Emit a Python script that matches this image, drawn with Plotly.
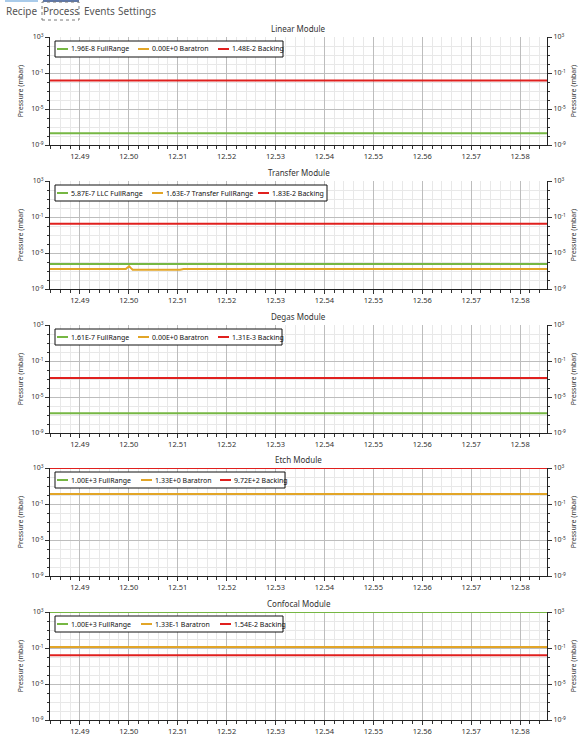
import plotly.graph_objects as go

W, H = 584, 738

# ---------------- data ----------------
modules = ["Linear Module", "Transfer Module", "Degas Module", "Etch Module", "Confocal Module"]

x_span = [12.4839, 12.5855]

linear_names = ["1.96E-8 FullRange", "0.00E+0 Baratron", "1.48E-2 Backing"]
linear_vals = [1.96e-8, 0.0, 1.48e-2]

transfer_names = ["5.87E-7 LLC FullRange", "1.63E-7 Transfer FullRange", "1.83E-2 Backing"]
transfer_vals = [5.87e-7, 1.63e-7, 1.83e-2]
transfer_orange_x = [12.4839, 12.4994, 12.4998, 12.5001, 12.5004, 12.5008, 12.5105, 12.5112, 12.5855]
transfer_orange_y = [1.63e-7, 1.63e-7, 2.6e-7, 3.3e-7, 2.2e-7, 1.35e-7, 1.35e-7, 1.63e-7, 1.63e-7]

degas_names = ["1.61E-7 FullRange", "0.00E+0 Baratron", "1.31E-3 Backing"]
degas_vals = [1.61e-7, 0.0, 1.31e-3]

etch_names = ["1.00E+3 FullRange", "1.33E+0 Baratron", "9.72E+2 Backing"]
etch_vals = [1.00e3, 1.33e0, 9.72e2]

confocal_names = ["1.00E+3 FullRange", "1.33E-1 Baratron", "1.54E-2 Backing"]
confocal_vals = [1.00e3, 1.33e-1, 1.54e-2]

y_major = [1e-9, 1e-5, 1e-1, 1e3]
y_major_text = ["10<sup>-9</sup>", "10<sup>-5</sup>", "10<sup>-1</sup>", "10<sup>3</sup>"]
y_minor = [1e-8, 1e-7, 1e-6, 1e-4, 1e-3, 1e-2, 1e0, 1e1, 1e2]

tabs = ["Recipe", "Process", "Events", "Settings"]

colors = ["#76b743", "#e2a527", "#e0201e"]

# ---------------- layout geometry (pixels) ----------------
FONT = "Noto Sans"
plot_left, plot_right = 50, 547
tops = [37, 181, 325, 468, 612]
ph = 108
# legend layout: (line starts for each entry, right edge of box)
legend_layout = [
    ([57, 138, 218], 283),
    ([57, 152, 258], 327),
    ([57, 138, 218], 282),
    ([57, 141, 220], 285),
    ([57, 141, 220], 283),
]


def px_x(p):
    return p / W


def px_y(p):
    return 1 - p / H


fig = go.Figure()

panels = [
    (linear_names, linear_vals, None),
    (transfer_names, transfer_vals, (transfer_orange_x, transfer_orange_y)),
    (degas_names, degas_vals, None),
    (etch_names, etch_vals, None),
    (confocal_names, confocal_vals, None),
]

layout = dict(
    width=W, height=H,
    margin=dict(l=0, r=0, t=0, b=0),
    paper_bgcolor="white", plot_bgcolor="white",
    font=dict(family=FONT, size=8, color="#333"),
    showlegend=False,
)

annotations = []
shapes = []

for i, (names, vals, special) in enumerate(panels):
    k = i + 1
    xa = "x" if k == 1 else f"x{k}"
    ya = "y" if k == 1 else f"y{k}"
    yr_name = f"y{k + 5}"
    for j in range(3):
        if j == 1 and special is not None:
            xs, ys = special
        else:
            xs, ys = x_span, [vals[j], vals[j]]
        fig.add_trace(go.Scatter(
            x=xs, y=ys, mode="lines", name=names[j],
            line=dict(color=colors[j], width=2),
            xaxis=xa, yaxis=(yr_name if j == 2 else ya), showlegend=False,
        ))
    top = tops[i]
    bot = top + ph
    ydom = [px_y(bot), px_y(top)]
    layout["xaxis" if k == 1 else f"xaxis{k}"] = dict(
        domain=[px_x(plot_left), px_x(plot_right)], anchor=ya,
        range=x_span, tick0=12.49, dtick=0.01, tickformat=".2f",
        showgrid=True, gridcolor="#bdbdbd", gridwidth=1,
        ticks="outside", ticklen=4, tickcolor="#333",
        showline=True, linecolor="#222", linewidth=1,
        tickfont=dict(size=7.5, color="#333"),
        minor=dict(dtick=0.002, tick0=12.49, showgrid=True, gridcolor="#e8e8e8",
                   ticks="outside", ticklen=3, tickcolor="#333"),
        zeroline=False, automargin=False,
    )
    common_y = dict(
        type="log", range=[-9, 3], domain=ydom,
        tickmode="array", tickvals=y_major, ticktext=y_major_text,
        ticks="outside", ticklen=4, tickcolor="#333",
        tickfont=dict(size=7, color="#333"),
        showline=True, linecolor="#222", linewidth=1,
        title=dict(text="Pressure (mbar)", font=dict(size=7, color="#333"), standoff=6),
        zeroline=False, automargin=False,
    )
    yl = dict(common_y)
    yl.update(anchor=xa, side="left", showgrid=True, gridcolor="#bdbdbd",
              minor=dict(tickmode="array", tickvals=y_minor, showgrid=True,
                         gridcolor="#e8e8e8", ticks="outside", ticklen=2, tickcolor="#333"))
    layout["yaxis" if k == 1 else f"yaxis{k}"] = yl
    yr = dict(common_y)
    yr.update(anchor=xa, side="right", overlaying=ya, showgrid=False,
              minor=dict(tickmode="array", tickvals=y_minor, showgrid=False,
                         ticks="outside", ticklen=2, tickcolor="#333"))
    layout[f"yaxis{k + 5}"] = yr

    # legend box drawn from the names
    starts, right = legend_layout[i]
    ltop, lbot = top + 4, top + 20
    lmid = (ltop + lbot) / 2
    shapes.append(dict(type="rect", xref="paper", yref="paper",
                       x0=px_x(55), x1=px_x(right), y0=px_y(lbot), y1=px_y(ltop),
                       fillcolor="white", line=dict(color="#111", width=1), layer="above"))
    for j in range(3):
        shapes.append(dict(type="line", xref="paper", yref="paper",
                           x0=px_x(starts[j]), x1=px_x(starts[j] + 11),
                           y0=px_y(lmid), y1=px_y(lmid),
                           line=dict(color=colors[j], width=2), layer="above"))
        annotations.append(dict(
            text=names[j], xref="paper", yref="paper",
            x=px_x(starts[j] + 12), y=px_y(lmid), xanchor="left", yanchor="middle",
            showarrow=False, font=dict(size=7, color="#111"),
        ))

    annotations.append(dict(
        text=modules[i], xref="paper", yref="paper",
        x=px_x((plot_left + plot_right) / 2), y=px_y(top - 1),
        xanchor="center", yanchor="bottom", showarrow=False,
        font=dict(size=8, color="#333"),
    ))

# tab bar
tab_cx = [21, 61, 99.5, 137]
for t, xx in zip(tabs, tab_cx):
    annotations.append(dict(
        text=t, xref="paper", yref="paper", x=px_x(xx), y=px_y(11),
        xanchor="center", yanchor="middle", showarrow=False,
        font=dict(size=10, color="#555"),
    ))
shapes.append(dict(type="line", xref="paper", yref="paper",
                   x0=px_x(5), x1=px_x(38), y0=px_y(1), y1=px_y(1),
                   line=dict(color="#a9cbea", width=2)))
shapes.append(dict(type="line", xref="paper", yref="paper",
                   x0=px_x(43), x1=px_x(79), y0=px_y(1), y1=px_y(1),
                   line=dict(color="#5f78a8", width=2)))
shapes.append(dict(type="rect", xref="paper", yref="paper",
                   x0=px_x(42), x1=px_x(79), y0=px_y(20), y1=px_y(2),
                   line=dict(color="#777", width=1, dash="dot")))

layout["annotations"] = annotations
layout["shapes"] = shapes
fig.update_layout(**layout)

fig.write_html("out.html", config={"displayModeBar": False},
               post_script="document.body.style.margin='0px';")
